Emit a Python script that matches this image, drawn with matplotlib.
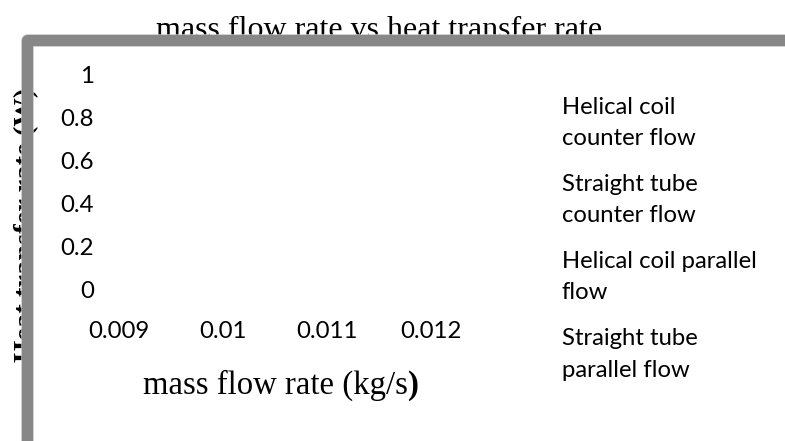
import matplotlib
matplotlib.use("Agg")
import matplotlib.pyplot as plt
from matplotlib.lines import Line2D

# chart data (the original chart shows no plotted points)
mass_flow = [0.009, 0.010, 0.011, 0.012]
x_labels = ["0.009", "0.01", "0.011", "0.012"]
y_ticks = [0, 0.2, 0.4, 0.6, 0.8, 1.0]
y_labels = ["0", "0.2", "0.4", "0.6", "0.8", "1"]
series_names = ["Helical coil\ncounter flow", "Straight tube\ncounter flow",
                "Helical coil parallel\nflow", "Straight tube\nparallel flow"]
series_values = [[], [], [], []]

plt.rcParams['font.family'] = ['Lato', 'DejaVu Sans']
W, H = 785, 441

fig = plt.figure(figsize=(W / 100, H / 100), dpi=100)
ax = fig.add_axes([119 / W, (H - 289.5) / H, 312 / W, 215 / H])

for name, vals in zip(series_names, series_values):
    ax.plot(mass_flow[:len(vals)], vals, label=name)

ax.set_xlim(0.009, 0.012)
ax.set_ylim(0, 1)
ax.set_xticks(mass_flow, x_labels)
ax.set_yticks(y_ticks, y_labels)
ax.tick_params(axis='x', length=0, labelsize=17.3, pad=23)
ax.tick_params(axis='y', length=0, labelsize=17.3, pad=18)
for s in ax.spines.values():
    s.set_visible(False)

serif = 'Liberation Serif'
ax.text(379.5 / W, 1 - 38.5 / H, "mass flow rate vs heat transfer rate",
        transform=fig.transFigure, ha='center', va='baseline',
        family=serif, fontsize=23)

xl = ax.set_xlabel("mass flow rate (kg/s", family=serif, fontsize=23.6)
ax.xaxis.set_label_coords((143 - 119) / 312, (289.5 - 394) / 215)
xl.set_ha('left')
xl.set_va('baseline')
ax.annotate(")", xy=(1, 0), xycoords=xl, ha='left', va='bottom',
            family=serif, fontsize=23.6, fontweight='bold')

yl = ax.set_ylabel("Heat transfer rate (W)", family=serif, fontsize=20.5,
                   fontweight='bold')
ax.yaxis.set_label_coords((33 - 119) / 312, (H - 224.5 - (H - 289.5)) / 215)
yl.set_va('baseline')

leg = ax.legend(loc='upper left', bbox_to_anchor=(562 / W, 1 - 96.5 / H),
                bbox_transform=fig.transFigure, frameon=False,
                handlelength=0, handletextpad=0, borderpad=0,
                borderaxespad=0, labelspacing=1.05, fontsize=17.2)
for t in leg.get_texts():
    t.set_linespacing(1.6)

# thick grey chart border (top and left), drawn over title / y label
bx = [26.5 / W, 26.5 / W, 1.01]
by = [1 - 440.5 / H, 1 - 39.5 / H, 1 - 39.5 / H]
fig.add_artist(Line2D(bx, by, transform=fig.transFigure, lw=12.5 * 0.72,
                      color='#c4c4c4', solid_joinstyle='round',
                      solid_capstyle='butt', zorder=10))
fig.add_artist(Line2D(bx, by, transform=fig.transFigure, lw=11 * 0.72,
                      color='#878787', solid_joinstyle='round',
                      solid_capstyle='butt', zorder=11))

fig.savefig("out.png", dpi=100)
